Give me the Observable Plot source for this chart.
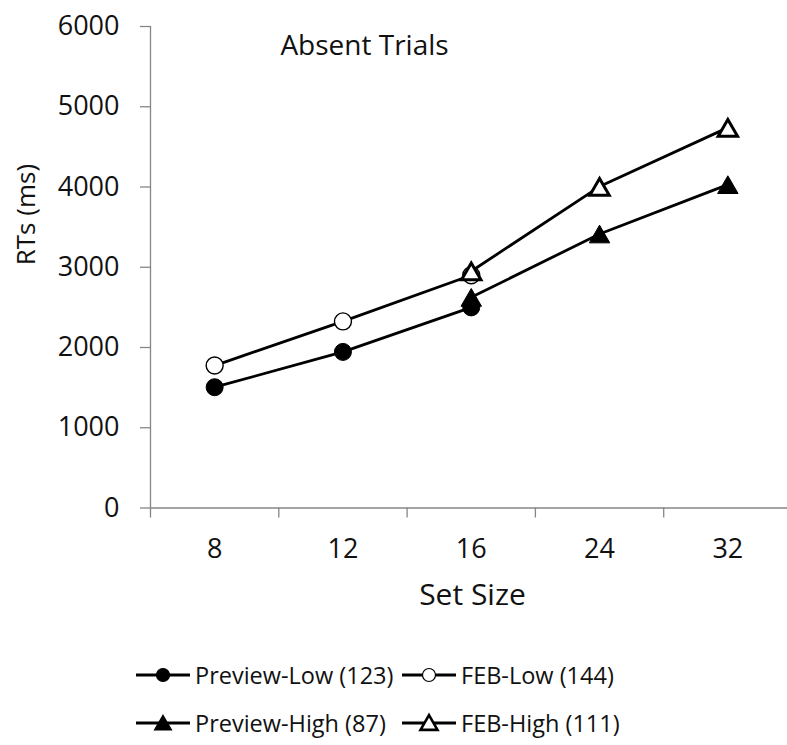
<!DOCTYPE html>
<html>
<head>
<meta charset="utf-8">
<script src="https://cdn.jsdelivr.net/npm/d3@7"></script>
<script src="https://cdn.jsdelivr.net/npm/@observablehq/plot@0.6"></script>
<style>
  html, body { margin: 0; padding: 0; background: #fff; }
  body { font-family: "Open Sans", sans-serif; color: #111; }
  #wrap { position: relative; width: 787px; height: 745px; overflow: hidden; }
  #chart svg { display: block; }
  #legend { position: absolute; left: 136px; top: 651px; display: grid;
            grid-template-columns: 266px auto; row-gap: 0; font-size: 23.5px; }
  .item { display: flex; align-items: center; height: 48px; white-space: nowrap; }
  .item svg { display: block; margin-right: 5px; }
</style>
</head>
<body>
<div id="wrap">
  <div id="chart"></div>
  <div id="legend"></div>
</div>
<script>
// ---------- data ----------
const setSizes = ["8", "12", "16", "24", "32"];
const lowSizes = ["8", "12", "16"];
const highSizes = ["16", "24", "32"];
const previewLow = [1505, 1945, 2500];
const febLow = [1775, 2325, 2900];
const previewHigh = [2625, 3415, 4030];
const febHigh = [2950, 4005, 4740];
const yTicks = [0, 1000, 2000, 3000, 4000, 5000, 6000];
const seriesNames = ["Preview-Low (123)", "FEB-Low (144)", "Preview-High (87)", "FEB-High (111)"];
const chartTitle = "Absent Trials";
const xTitle = "Set Size";
const yTitle = "RTs (ms)";

// ---------- build tables ----------
const toRows = (name, sizes, values) =>
  sizes.map((s, i) => ({series: name, x: setSizes.indexOf(s), rt: values[i]}));

const series = [
  {name: seriesNames[0], rows: toRows(seriesNames[0], lowSizes, previewLow), symbol: "circle", fill: "#000", sw: 1, r: 8.5, dy: 0},
  {name: seriesNames[1], rows: toRows(seriesNames[1], lowSizes, febLow), symbol: "circle", fill: "#fff", sw: 1.4, r: 8.5, dy: 0},
  {name: seriesNames[2], rows: toRows(seriesNames[2], highSizes, previewHigh), symbol: "triangle", fill: "#000", sw: 1, r: 7.6, dy: 3},
  {name: seriesNames[3], rows: toRows(seriesNames[3], highSizes, febHigh), symbol: "triangle", fill: "#fff", sw: 3, r: 7.2, dy: 3}
];

const axisColor = "#868686";
const boundaries = setSizes.map((_, i) => i - 0.5);
const centers = setSizes.map((_, i) => i);

const dataMarks = series.flatMap(s => [
  Plot.line(s.rows, {x: "x", y: "rt", stroke: "#000", strokeWidth: 2.8}),
  Plot.dot(s.rows, {x: "x", y: "rt", symbol: s.symbol, r: s.r, fill: s.fill, stroke: "#000", strokeWidth: s.sw, dy: s.dy})
]);

const chart = Plot.plot({
  width: 787,
  height: 630,
  marginTop: 26,
  marginBottom: 122.5,
  marginLeft: 150,
  marginRight: 0,
  style: {fontFamily: "Open Sans", fontSize: "26px", color: "#111", background: "#fff", overflow: "visible"},
  x: {type: "linear", domain: [-0.5, setSizes.length - 0.5], range: [150, 791.5]},
  y: {domain: [0, 6000]},
  marks: [
    Plot.ruleY([0], {stroke: axisColor, strokeWidth: 1.3}),
    Plot.ruleX([boundaries[0]], {y1: 0, y2: 6000, stroke: axisColor, strokeWidth: 1.3}),
    Plot.axisY(yTicks, {anchor: "left", tickSize: 10, tickPadding: 21, tickFormat: d => String(d), stroke: axisColor, strokeWidth: 1.3, fill: "#111", fontSize: 27, label: null}),
    Plot.axisX(boundaries, {anchor: "bottom", tickSize: 10, tickFormat: () => "", stroke: axisColor, strokeWidth: 1.3, label: null}),
    Plot.axisX(centers, {anchor: "bottom", tickSize: 0, tickPadding: 31, tickFormat: i => setSizes[i], fill: "#111", fontSize: 27, label: null}),
    Plot.text([xTitle], {frameAnchor: "bottom", dx: 3.5, dy: 97, fontSize: 30, fill: "#111"}),
    Plot.text([yTitle], {frameAnchor: "left", rotate: -90, dx: -124, dy: -2, fontSize: 26, fill: "#111"}),
    Plot.text([chartTitle], {frameAnchor: "top", dx: -104.5, dy: 9, fontSize: 28, fill: "#111"}),
    ...dataMarks
  ]
});
document.getElementById("chart").appendChild(chart);

// ---------- legend ----------
const legend = document.getElementById("legend");
const ns = "http://www.w3.org/2000/svg";
series.forEach(s => {
  const item = document.createElement("div");
  item.className = "item";
  const sv = document.createElementNS(ns, "svg");
  sv.setAttribute("width", 54); sv.setAttribute("height", 24);
  const ln = document.createElementNS(ns, "line");
  ln.setAttribute("x1", 0); ln.setAttribute("x2", 54); ln.setAttribute("y1", 12); ln.setAttribute("y2", 12);
  ln.setAttribute("stroke", "#000"); ln.setAttribute("stroke-width", 2.8);
  sv.appendChild(ln);
  const p = document.createElementNS(ns, "path");
  const sym = s.symbol === "circle" ? d3.symbolCircle : d3.symbolTriangle;
  const rr = s.symbol === "circle" ? 6.5 : 6.3;
  p.setAttribute("d", d3.symbol(sym, Math.PI * rr * rr)());
  p.setAttribute("transform", `translate(27,${s.symbol === "circle" ? 12 : 14})`);
  p.setAttribute("fill", s.fill); p.setAttribute("stroke", "#000");
  p.setAttribute("stroke-width", s.symbol === "triangle" && s.fill === "#fff" ? 2.6 : 1.2);
  sv.appendChild(p);
  item.appendChild(sv);
  const t = document.createElement("span");
  t.textContent = s.name;
  item.appendChild(t);
  legend.appendChild(item);
});
</script>
</body>
</html>
